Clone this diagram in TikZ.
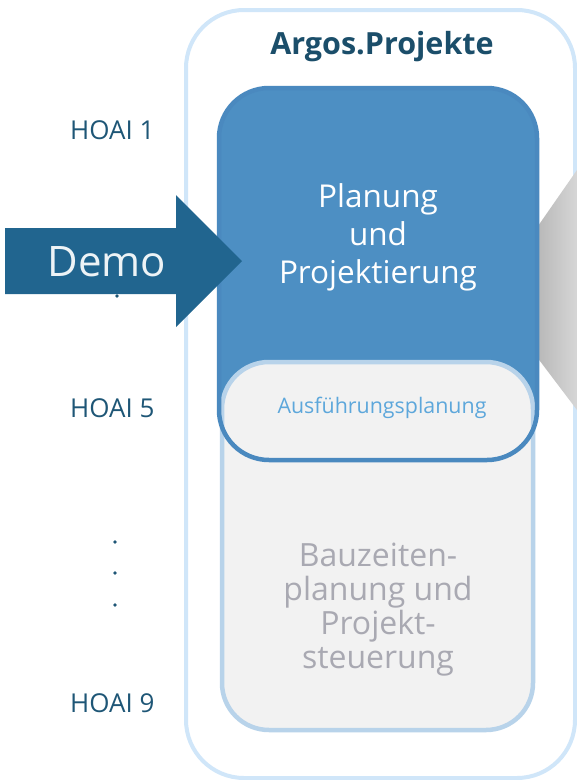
\documentclass[tikz,border=0pt]{standalone}
\usepackage{fontspec}
\setmainfont{Open Sans}
\usepackage{xcolor}
\usepackage{tikz}
\usetikzlibrary{calc}
\definecolor{navy}{HTML}{1E5676}
\definecolor{arrowblue}{HTML}{21658F}
\definecolor{boxblue}{HTML}{4D8FC3}
\definecolor{boxline}{HTML}{4A89BF}
\definecolor{frame}{HTML}{D0E6F9}
\definecolor{greyline}{HTML}{B8D3EA}
\definecolor{greyfill}{HTML}{F2F2F2}
\definecolor{pilltext}{HTML}{5DA7DB}
\definecolor{greytext}{HTML}{A9A9B2}
\tikzset{
  outer/.style={draw=frame, line width=4pt, rounded corners=58pt, fill=white},
  phase/.style={fill=boxblue, rounded corners=50pt},
  phaseline/.style={draw=boxline, line width=4.5pt, rounded corners=50pt},
  control/.style={draw=greyline, fill=greyfill, line width=4.5pt, rounded corners=47pt},
  demo/.style={fill=arrowblue},
  hoai/.style={text=navy, font=\fontsize{26}{30}\selectfont},
  dotm/.style={circle, fill=navy, inner sep=1.3pt},
  title/.style={text=navy!90!black, font=\bfseries\fontsize{30.5}{34}\selectfont},
  big/.style={align=center, font=\fontsize{31.5}{38}\selectfont},
}
\begin{document}
\begin{tikzpicture}[x=1pt,y=-1pt]
  \useasboundingbox (0,0) rectangle (577,780);
  % frame of the product
  \draw[outer] (186,10) rectangle (575,778);
  \node[title] (argos) at (382,47) {Argos.Projekte};
  % grey wedge on the right
  \shade[left color=black!42, right color=black!16]
    (577,170) -- (490,295) -- (577,410) -- cycle;
  % phases
  \fill[phase] (219,88) rectangle (537,460);
  \draw[control] (222,362) rectangle (533,730);
  \draw[phaseline] (219,88) rectangle (537,460);
  \node[big, text=white] (plan) at (378,237) {Planung\\und\\Projektierung};
  \node[text=pilltext, font=\fontsize{21.4}{24}\selectfont] (ausf) at (382,408) {Ausführungsplanung};
  \node[big, text=greytext, font=\fontsize{32}{34}\selectfont] (bau) at (378,610)
    {Bauzeiten-\\planung und\\Projekt-\\steuerung};
  % HOAI scale
  \node[hoai, anchor=east] (h1) at (158,130) {HOAI 1};
  \node[hoai, anchor=east] (h5) at (158,408) {HOAI 5};
  \node[hoai, anchor=east] (h9) at (158,703) {HOAI 9};
  \node[dotm] (d0) at (117,296) {};
  \foreach \y [count=\i] in {542,573,605}
    \node[dotm] (d\i) at (115,\y) {};
  % demo arrow
  \fill[demo] (5,228) -- (176,228) -- (176,195) -- (242,261)
    -- (176,327) -- (176,294) -- (5,294) -- cycle;
  \node[text=white!92!arrowblue, font=\fontsize{42}{46}\selectfont] (demo) at (107,262) {Demo};
\end{tikzpicture}
\end{document}
